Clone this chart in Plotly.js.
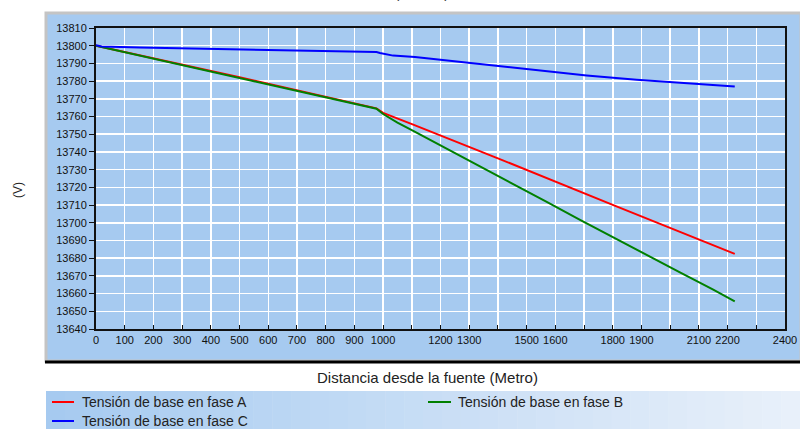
<!DOCTYPE html>
<html>
<head>
<meta charset="utf-8">
<script src="https://cdn.plot.ly/plotly-3.0.1.min.js"></script>
<style>html,body{margin:0;padding:0;background:#fff;}#chart{width:800px;height:429px;}</style>
</head>
<body>
<div id="chart"></div>
<script>
// ---- data ----
const seriesNames = ["Tensión de base en fase A", "Tensión de base en fase B", "Tensión de base en fase C"];
const seriesColors = ["#FF0000", "#008000", "#0000FF"];

const distA = [0, 500, 977, 1000, 1105, 1400, 1800, 2225];
const voltA = [13800, 13782.2, 13764.6, 13762.1, 13755.4, 13736.4, 13710.1, 13682.4];

const distB = [0, 500, 977, 1000, 1050, 1105, 1221, 1337, 1454, 1570, 1686, 1802, 1918, 2034, 2150, 2225];
const voltB = [13800, 13781.8, 13764.4, 13761.4, 13756.6, 13751.9, 13742.0, 13731.9, 13722.0, 13711.8, 13701.6, 13691.6, 13681.8, 13672.0, 13662.2, 13655.6];

const distC = [0, 20, 153, 246, 477, 699, 798, 954, 977, 989, 1000, 1035, 1111, 1303, 1500, 1605, 1709, 1883, 2057, 2225];
const voltC = [13800.2, 13799.6, 13799.0, 13798.7, 13798.1, 13797.6, 13797.0, 13796.6, 13796.4, 13795.9, 13795.5, 13794.4, 13793.6, 13790.2, 13786.8, 13784.9, 13783.2, 13780.8, 13778.9, 13777.0];

const xTickVals = [0,100,200,300,400,500,600,700,800,900,1000,1100,1200,1300,1400,1500,1600,1700,1800,1900,2000,2100,2200,2300,2400];
const xTickText = ["0","100","200","300","400","500","600","700","800","900","1000","","1200","1300","","1500","1600","","1800","1900","","2100","2200","","2400"];

const xTitle = "Distancia desde la fuente (Metro)";
const yTitle = "(V)";
const topTitle = "(Tensión)";

// ---- layout geometry (pixels) ----
const W = 800, H = 429;
const L = 96, R = 785, T = 28, B = 329;
const pw = R - L, ph = B - T;
const px2x = p => (p - L) / pw;
const py2y = p => (B - p) / ph;

const dists = [distA, distB, distC];
const volts = [voltA, voltB, voltC];
const traces = dists.map((d, i) => ({
  x: d, y: volts[i], type: "scatter", mode: "lines",
  name: seriesNames[i], showlegend: false,
  line: {color: seriesColors[i], width: 2}
}));

const shapes = [];
// outer panel
shapes.push({type: "rect", xref: "paper", yref: "paper", layer: "below",
  x0: px2x(46), x1: px2x(801), y0: py2y(361), y1: py2y(13),
  fillcolor: "#A6CAF0", line: {color: "#C4C4C4", width: 3}});
// black bottom rule of panel
shapes.push({type: "line", xref: "paper", yref: "paper",
  x0: px2x(45), x1: px2x(800), y0: py2y(362), y1: py2y(362),
  line: {color: "#000000", width: 3}});
// legend band gradient
const nStrips = 40;
const c0 = [166, 202, 240], c1 = [232, 240, 250];
for (let k = 0; k < nStrips; k++) {
  const t = k / (nStrips - 1);
  const c = c0.map((v, j) => Math.round(v + (c1[j] - v) * t));
  const a = 46 + (800 - 46) * k / nStrips, b = 46 + (800 - 46) * (k + 1) / nStrips + 0.5;
  shapes.push({type: "rect", xref: "paper", yref: "paper", layer: "below",
    x0: px2x(a), x1: px2x(b), y0: py2y(430), y1: py2y(391),
    fillcolor: `rgb(${c[0]},${c[1]},${c[2]})`, line: {width: 0}});
}
// legend samples
const legPos = [[52, 74, 80, 402], [428, 451, 456, 402], [52, 74, 80, 421]];
const annotations = [];
legPos.forEach((p, i) => {
  shapes.push({type: "line", xref: "paper", yref: "paper",
    x0: px2x(p[0]), x1: px2x(p[1]), y0: py2y(p[3]), y1: py2y(p[3]),
    line: {color: seriesColors[i], width: 2}});
  annotations.push({xref: "paper", yref: "paper", x: px2x(p[2]), y: py2y(p[3]),
    xanchor: "left", yanchor: "middle", showarrow: false, text: seriesNames[i],
    font: {size: 14, color: "#222"}});
});
annotations.push({xref: "paper", yref: "paper", x: px2x(427), y: py2y(377),
  xanchor: "center", yanchor: "middle", showarrow: false, text: xTitle,
  font: {size: 15, color: "#222"}});
annotations.push({xref: "paper", yref: "paper", x: px2x(18), y: py2y(190),
  xanchor: "center", yanchor: "middle", showarrow: false, text: yTitle, textangle: -90,
  font: {size: 12, color: "#222"}});
annotations.push({xref: "paper", yref: "paper", x: px2x(421), y: py2y(-6),
  xanchor: "center", yanchor: "middle", showarrow: false, text: topTitle,
  font: {size: 13, color: "#222"}});

const layout = {
  width: W, height: H,
  margin: {l: L, r: W - R, t: T, b: H - B, pad: 0},
  paper_bgcolor: "#FFFFFF",
  plot_bgcolor: "#A6CAF0",
  font: {family: "Liberation Sans, Arial, sans-serif", size: 11, color: "#111"},
  showlegend: false,
  xaxis: {
    range: [0, 2400], tickmode: "array", tickvals: xTickVals, ticktext: xTickText,
    showgrid: true, gridcolor: "#FFFFFF", gridwidth: 1.5,
    zeroline: false, showline: true, linecolor: "#111", linewidth: 2, mirror: true,
    ticks: "inside", ticklen: 4, tickcolor: "#111",
    tickfont: {size: 11, color: "#111"}
  },
  yaxis: {
    range: [13640, 13810], dtick: 10, tick0: 13640,
    showgrid: true, gridcolor: "#FFFFFF", gridwidth: 1.5,
    zeroline: false, showline: true, linecolor: "#111", linewidth: 2, mirror: true,
    ticks: "outside", ticklen: 5, tickcolor: "#111",
    tickfont: {size: 11, color: "#111"}, tickformat: "d"
  },
  shapes: shapes,
  annotations: annotations
};

Plotly.newPlot("chart", traces, layout, {displayModeBar: false, staticPlot: true});
</script>
</body>
</html>
